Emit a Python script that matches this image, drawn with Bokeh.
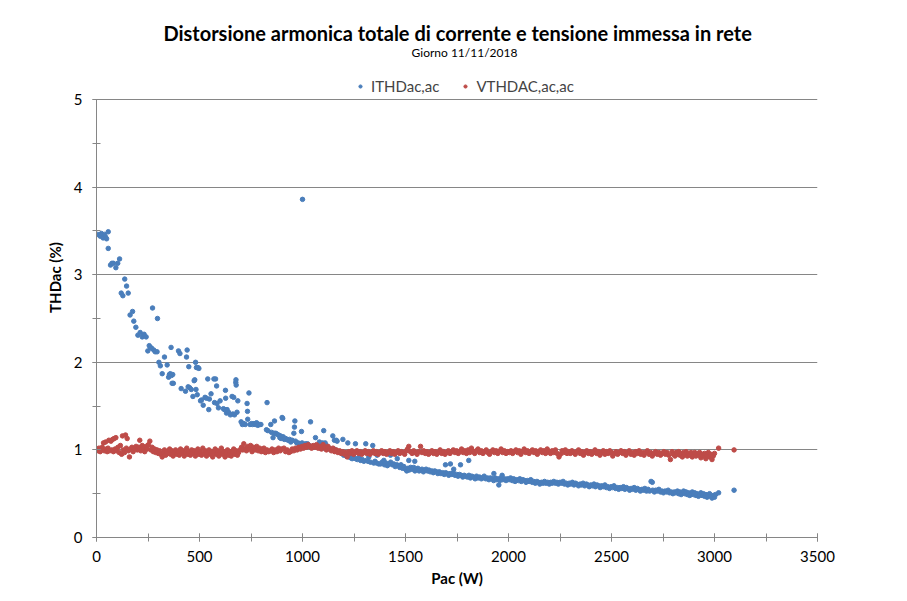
from bokeh.plotting import figure
from bokeh.models import Legend, LegendItem, SingleIntervalTicker, Range1d, Label
from bokeh.embed import file_html
from bokeh.resources import INLINE

# ---------------- data ----------------
title_text = "Distorsione armonica totale di  corrente e tensione  immessa in rete"
subtitle_text = "Giorno 11/11/2018"
series_names = ["ITHDac,ac", "VTHDAC,ac,ac"]
x_label = "Pac (W)"
y_label = "THDac (%)"
x_axis_max = 3500
y_axis_max = 5

# ITHDac,ac  (Pac W, THD %)
ithd_points = [
    (6, 3.46), (18, 3.44), (24, 3.47), (32, 3.42), (39, 3.46), (44, 3.43), (49, 3.41), (57, 3.49), (57, 3.30),
    (68, 3.11), (75, 3.13), (82, 3.13), (94, 3.08), (103, 3.13), (112, 3.18), (120, 2.79), (128, 2.76),
    (137, 2.95), (146, 2.87), (154, 2.79), (163, 2.54), (175, 2.58), (181, 2.47), (191, 2.40), (201, 2.31),
    (212, 2.34), (222, 2.29), (231, 2.32), (241, 2.29), (249, 2.13), (256, 2.19), (262, 2.17), (268, 2.16),
    (272, 2.62), (278, 2.14), (285, 2.12), (294, 2.12), (296, 2.50), (303, 2.00), (310, 1.96), (319, 1.87),
    (330, 2.06), (343, 1.97), (350, 1.83), (354, 1.86), (358, 1.87), (362, 2.17), (364, 1.85), (367, 1.76),
    (370, 1.86), (373, 1.76), (398, 2.13), (405, 2.10), (411, 1.70), (432, 1.67), (437, 2.06), (440, 2.14),
    (445, 1.72), (448, 1.95), (452, 1.71), (460, 1.69), (468, 1.61), (474, 1.79), (477, 1.80), (481, 2.00),
    (483, 1.69), (485, 1.94), (489, 1.63), (492, 1.94), (497, 1.93), (505, 1.56), (510, 1.57), (518, 1.51),
    (527, 1.60), (534, 1.59), (540, 1.81), (545, 1.46), (548, 1.58), (556, 1.64), (570, 1.81), (573, 1.54),
    (578, 1.81), (583, 1.73), (585, 1.53), (592, 1.48), (600, 1.56), (616, 1.47), (621, 1.46), (626, 1.68),
    (627, 1.59), (631, 1.42), (634, 1.46), (641, 1.43), (650, 1.40), (658, 1.61), (662, 1.41), (666, 1.60),
    (670, 1.40), (676, 1.77), (677, 1.80), (678, 1.74), (682, 1.43), (686, 1.56), (702, 1.32), (708, 1.29),
    (715, 1.30), (722, 1.29), (731, 1.53), (733, 1.44), (734, 1.35), (740, 1.65), (745, 1.29), (752, 1.30),
    (758, 1.29), (764, 1.30), (770, 1.29), (777, 1.31), (783, 1.28), (790, 1.29), (798, 1.29), (825, 1.23),
    (828, 1.54), (832, 1.22), (846, 1.29), (850, 1.20), (857, 1.14), (862, 1.19), (864, 1.33), (870, 1.19),
    (876, 1.18), (884, 1.17), (890, 1.14), (893, 1.16), (896, 1.13), (901, 1.37), (904, 1.36), (906, 1.15),
    (912, 1.12), (918, 1.13), (924, 1.12), (930, 1.11), (937, 1.12), (943, 1.09), (950, 1.11), (958, 1.19),
    (961, 1.26), (963, 1.33), (966, 1.10), (972, 1.08), (979, 1.08), (986, 1.07), (995, 1.21), (998, 1.08),
    (1000, 3.86), (1008, 1.06), (1015, 1.07), (1024, 1.07), (1032, 1.05), (1039, 1.32), (1046, 1.04),
    (1052, 1.03), (1058, 1.04), (1063, 1.14), (1068, 1.03), (1075, 1.04), (1082, 1.09), (1088, 1.02),
    (1097, 1.08), (1103, 1.22), (1106, 1.02), (1110, 1.08), (1116, 1.05), (1122, 1.01), (1130, 1.02),
    (1138, 1.00), (1147, 1.16), (1152, 1.01), (1155, 1.11), (1160, 1.00), (1164, 1.11), (1168, 1.10),
    (1175, 0.98), (1182, 0.97), (1190, 0.96), (1196, 1.12), (1200, 0.94), (1206, 0.95), (1213, 0.93),
    (1220, 1.08), (1226, 0.92), (1234, 0.91), (1241, 0.90), (1248, 0.92), (1257, 1.07), (1258, 0.90),
    (1266, 0.89), (1274, 0.91), (1282, 0.88), (1290, 0.89), (1298, 0.87), (1307, 1.07), (1310, 0.88),
    (1318, 0.87), (1322, 0.92), (1330, 0.86), (1341, 1.05), (1346, 0.85), (1352, 0.87), (1360, 0.85),
    (1362, 0.94), (1370, 0.84), (1379, 0.84), (1386, 0.86), (1395, 0.88), (1398, 0.83),
    (1405, 0.85), (1412, 0.82), (1420, 0.84), (1427, 0.94), (1428, 0.86), (1436, 0.83), (1443, 0.84),
    (1450, 0.81), (1458, 0.83), (1460, 0.90), (1465, 0.82), (1472, 0.80), (1478, 0.83), (1485, 0.79),
    (1492, 0.81), (1500, 0.78), (1506, 0.76), (1512, 0.79), (1516, 0.88), (1518, 0.77), (1525, 0.80),
    (1532, 0.78), (1540, 0.80), (1545, 0.87), (1546, 0.76), (1553, 0.78), (1560, 0.79), (1566, 0.76),
    (1573, 0.77), (1580, 0.78), (1587, 0.75), (1594, 0.77), (1600, 0.78), (1607, 0.76), (1614, 0.77),
    (1620, 0.75), (1628, 0.76), (1635, 0.74), (1642, 0.76), (1650, 0.75), (1657, 0.73), (1664, 0.75),
    (1672, 0.73), (1680, 0.74), (1688, 0.72), (1694, 0.83), (1695, 0.74), (1702, 0.73), (1710, 0.71),
    (1717, 0.73), (1718, 0.84), (1725, 0.72), (1732, 0.74), (1734, 0.78), (1740, 0.71), (1748, 0.72),
    (1755, 0.70), (1762, 0.72), (1767, 0.83), (1770, 0.71), (1778, 0.69), (1785, 0.71), (1792, 0.70),
    (1800, 0.69), (1807, 0.88), (1808, 0.71), (1815, 0.68), (1822, 0.70), (1830, 0.69), (1838, 0.67),
    (1845, 0.70), (1852, 0.68), (1860, 0.69), (1868, 0.67), (1875, 0.68), (1882, 0.70), (1890, 0.67),
    (1898, 0.68), (1905, 0.66), (1912, 0.68), (1920, 0.67), (1928, 0.65), (1929, 0.73), (1935, 0.68),
    (1942, 0.66), (1950, 0.67), (1953, 0.60), (1958, 0.65), (1965, 0.68), (1969, 0.71), (1972, 0.66),
    (1980, 0.67), (1988, 0.65), (1995, 0.67), (2003, 0.66), (2010, 0.68), (2018, 0.65), (2025, 0.67),
    (2032, 0.64), (2040, 0.66), (2048, 0.65), (2055, 0.67), (2062, 0.64), (2070, 0.66), (2078, 0.65),
    (2085, 0.63), (2092, 0.65), (2100, 0.64), (2108, 0.66), (2115, 0.63), (2122, 0.64), (2130, 0.62),
    (2138, 0.64), (2145, 0.63), (2152, 0.61), (2160, 0.63), (2168, 0.62), (2175, 0.64), (2182, 0.62),
    (2190, 0.63), (2198, 0.61), (2205, 0.63), (2212, 0.62), (2220, 0.64), (2228, 0.62), (2235, 0.63),
    (2242, 0.61), (2250, 0.63), (2258, 0.62), (2265, 0.64), (2272, 0.61), (2280, 0.62), (2288, 0.60),
    (2295, 0.62), (2302, 0.61), (2310, 0.63), (2318, 0.60), (2325, 0.62), (2332, 0.61), (2340, 0.59),
    (2348, 0.61), (2355, 0.60), (2362, 0.62), (2370, 0.59), (2378, 0.61), (2385, 0.60), (2392, 0.58),
    (2400, 0.60), (2408, 0.59), (2415, 0.61), (2422, 0.58), (2430, 0.60), (2438, 0.59), (2445, 0.57),
    (2452, 0.59), (2460, 0.58), (2468, 0.60), (2475, 0.57), (2482, 0.58), (2490, 0.56), (2498, 0.58),
    (2505, 0.57), (2512, 0.59), (2520, 0.56), (2528, 0.57), (2535, 0.55), (2542, 0.57), (2550, 0.56),
    (2558, 0.58), (2565, 0.55), (2572, 0.57), (2580, 0.56), (2588, 0.54), (2595, 0.56), (2602, 0.55),
    (2610, 0.57), (2618, 0.54), (2625, 0.56), (2632, 0.55), (2640, 0.53), (2648, 0.55), (2655, 0.54),
    (2662, 0.56), (2670, 0.53), (2678, 0.55), (2685, 0.53), (2692, 0.64), (2698, 0.63), (2700, 0.54),
    (2708, 0.52), (2715, 0.54), (2722, 0.53), (2730, 0.55), (2738, 0.52), (2745, 0.53), (2752, 0.51),
    (2760, 0.53), (2768, 0.52), (2775, 0.54), (2782, 0.51), (2790, 0.52), (2798, 0.50), (2805, 0.52),
    (2812, 0.51), (2820, 0.53), (2826, 0.50), (2832, 0.52), (2838, 0.49), (2845, 0.51), (2850, 0.53),
    (2856, 0.50), (2862, 0.52), (2868, 0.49), (2874, 0.51), (2880, 0.48), (2886, 0.50), (2892, 0.52),
    (2898, 0.49), (2904, 0.51), (2910, 0.48), (2916, 0.50), (2922, 0.47), (2928, 0.49), (2934, 0.51),
    (2940, 0.48), (2946, 0.50), (2952, 0.47), (2958, 0.49), (2964, 0.46), (2970, 0.48), (2976, 0.50),
    (2982, 0.47), (2988, 0.45), (2994, 0.48), (3000, 0.46), (3005, 0.49), (3020, 0.51), (3095, 0.54),
]

# VTHDAC,ac,ac  (Pac W, THD %)
vthd_points = [
    (3, 1.01), (8, 0.99), (12, 1.02), (18, 0.98), (22, 1.00), (28, 1.03), (34, 1.08), (38, 0.99), (44, 1.09),
    (48, 1.01), (52, 0.98), (56, 1.02), (60, 1.11), (64, 0.99), (70, 1.10), (74, 1.00), (78, 1.12), (82, 0.98),
    (86, 1.13), (90, 1.01), (94, 1.14), (98, 0.99), (104, 1.03), (110, 0.97), (116, 1.05), (122, 0.95),
    (126, 1.16), (130, 1.00), (136, 0.97), (141, 1.17), (145, 1.02), (149, 1.13), (155, 0.99), (160, 0.92),
    (165, 1.01), (172, 1.03), (178, 0.98), (185, 1.02), (192, 1.04), (198, 1.00), (205, 1.03), (210, 1.11),
    (215, 0.99), (222, 1.05), (228, 1.02), (234, 0.98), (240, 1.04), (246, 1.01), (252, 1.06), (259, 1.10),
    (264, 1.00), (270, 1.03), (276, 0.98), (282, 1.01), (288, 0.97), (294, 1.00), (300, 0.96),
    (306, 0.99), (312, 0.95), (319, 0.92), (324, 0.97), (330, 1.00), (336, 0.94), (342, 0.98), (348, 0.96),
    (355, 1.01), (360, 0.95), (366, 0.99), (372, 0.93), (378, 0.97), (384, 1.00), (390, 0.95), (396, 0.98),
    (402, 0.94), (408, 1.01), (414, 0.96), (420, 0.99), (426, 0.93), (432, 0.97), (438, 1.02), (444, 0.95),
    (450, 0.98), (456, 0.94), (462, 1.00), (468, 0.96), (474, 0.99), (480, 0.93), (486, 0.97), (492, 1.01),
    (498, 0.95), (504, 0.98), (510, 0.94), (516, 1.02), (522, 0.96), (528, 0.99), (534, 0.93), (540, 0.97),
    (546, 1.00), (552, 0.95), (558, 0.98), (564, 0.92), (570, 0.97), (576, 1.01), (582, 0.95), (588, 0.99),
    (594, 0.93), (600, 0.97), (606, 1.02), (612, 0.95), (618, 0.98), (624, 0.92), (630, 0.96), (636, 1.00),
    (642, 0.94), (648, 0.98), (654, 0.93), (660, 0.97), (666, 1.01), (672, 0.95), (678, 0.99), (684, 0.94),
    (690, 0.97), (696, 1.00),
    (704, 1.03), (710, 1.00), (715, 1.07), (722, 1.02), (728, 0.99), (735, 1.04), (742, 1.01), (748, 1.05),
    (755, 0.98), (762, 1.03), (770, 1.00), (778, 1.04), (785, 0.99), (792, 1.02), (800, 0.98), (808, 1.01),
    (813, 1.02), (820, 0.97), (828, 1.00), (836, 0.98), (845, 0.99), (852, 1.01), (860, 0.97), (868, 1.00),
    (876, 0.98), (884, 1.02), (892, 0.99), (900, 1.01), (910, 1.02), (918, 0.98), (926, 1.00), (934, 0.97),
    (942, 0.98), (950, 1.01), (958, 0.99), (966, 1.02), (974, 1.00), (982, 1.03), (990, 1.01), (998, 1.04),
    (1005, 1.02), (1012, 1.05), (1020, 1.03), (1028, 1.06), (1036, 1.04), (1044, 1.02), (1052, 1.05),
    (1060, 1.03), (1068, 1.06), (1076, 1.02), (1084, 1.04), (1092, 1.01), (1100, 1.06), (1108, 1.03),
    (1116, 1.00), (1124, 1.04), (1132, 1.01), (1140, 0.99), (1148, 1.02), (1156, 0.98), (1164, 1.00),
    (1172, 0.97), (1180, 0.99), (1188, 0.96), (1196, 0.98),
    (1204, 0.95), (1212, 0.97), (1217, 0.92), (1225, 0.98), (1232, 0.96), (1240, 0.99), (1248, 0.95),
    (1256, 0.97), (1264, 0.99), (1272, 0.96), (1280, 0.98), (1288, 0.95), (1296, 0.97), (1304, 0.99),
    (1312, 0.96), (1320, 0.98), (1328, 0.95), (1336, 0.97), (1344, 0.99), (1352, 0.96), (1360, 0.98),
    (1368, 0.95), (1376, 0.97), (1384, 0.99), (1392, 0.96), (1400, 0.98), (1408, 0.95), (1416, 0.97),
    (1424, 0.99), (1432, 0.96), (1440, 0.98), (1448, 0.95), (1456, 0.97), (1464, 0.99), (1472, 0.96),
    (1480, 0.98), (1488, 0.97), (1496, 0.95), (1504, 0.99), (1510, 1.01), (1516, 1.04), (1524, 0.98),
    (1532, 0.96), (1540, 0.99), (1548, 0.97), (1556, 0.95), (1564, 0.98), (1573, 1.04), (1580, 0.97),
    (1588, 0.99), (1596, 0.96),
    (1604, 0.98), (1612, 0.95), (1620, 0.97), (1628, 0.99), (1636, 0.96), (1644, 0.98), (1652, 0.95),
    (1660, 0.97), (1668, 1.00), (1676, 0.96), (1684, 0.98), (1692, 0.95), (1700, 0.97), (1708, 0.99),
    (1716, 0.96), (1724, 0.98), (1732, 1.00), (1740, 0.97), (1748, 0.99), (1756, 0.96), (1764, 0.98),
    (1772, 1.01), (1780, 0.97), (1788, 0.99), (1796, 0.96), (1804, 1.00), (1812, 0.97), (1820, 1.02),
    (1828, 0.98), (1836, 0.96), (1844, 0.99), (1852, 1.01), (1860, 0.97), (1868, 0.99), (1876, 0.96),
    (1884, 0.98), (1892, 1.00), (1900, 0.97), (1908, 0.95), (1916, 0.98), (1924, 1.00), (1932, 0.97),
    (1940, 0.99), (1948, 0.96), (1956, 0.98), (1964, 1.01), (1972, 0.97), (1980, 0.99), (1988, 0.96),
    (1996, 0.98), (2004, 0.97), (2012, 0.99), (2020, 0.96), (2028, 0.98), (2036, 1.00), (2044, 0.97),
    (2052, 0.99), (2060, 0.95), (2068, 0.98), (2076, 1.01), (2084, 0.97), (2092, 0.99), (2100, 0.96),
    (2108, 0.98), (2116, 1.00), (2124, 0.97), (2132, 0.99), (2140, 0.95), (2148, 0.98), (2156, 1.00),
    (2164, 0.97), (2172, 0.99), (2180, 0.96), (2188, 1.01), (2196, 0.98), (2204, 0.96), (2212, 0.99),
    (2220, 0.97), (2228, 1.00), (2236, 0.96), (2245, 0.92), (2252, 0.95), (2260, 0.99), (2268, 0.97),
    (2276, 1.00), (2284, 0.96), (2292, 0.98),
    (2300, 0.96), (2308, 0.99), (2316, 0.97), (2324, 0.95), (2332, 0.98), (2340, 1.00), (2348, 0.96),
    (2356, 0.98), (2364, 0.94), (2372, 0.97), (2380, 0.99), (2388, 0.96), (2396, 0.98), (2404, 0.95),
    (2412, 0.97), (2420, 1.00), (2428, 0.96), (2436, 0.98), (2444, 0.94), (2452, 0.97), (2460, 0.99),
    (2468, 0.95), (2476, 0.98), (2484, 0.96), (2492, 0.99), (2500, 0.97), (2506, 0.93), (2514, 0.96),
    (2522, 0.98), (2530, 0.95), (2538, 0.97), (2546, 0.99), (2554, 0.96), (2562, 0.98), (2570, 0.94),
    (2578, 0.97), (2586, 0.99), (2594, 0.95), (2602, 0.97), (2610, 0.94), (2618, 0.98), (2626, 0.96),
    (2634, 0.99), (2642, 0.95), (2650, 0.97), (2658, 0.94), (2666, 0.97), (2674, 0.99), (2682, 0.95),
    (2690, 0.97), (2698, 0.93), (2706, 0.96), (2714, 0.98), (2722, 0.95), (2730, 0.97), (2738, 0.94),
    (2746, 0.96), (2754, 0.98), (2762, 0.95), (2770, 0.97), (2778, 0.94), (2786, 0.89), (2794, 0.98),
    (2800, 0.95), (2808, 0.93), (2814, 0.97), (2820, 0.95), (2826, 0.98), (2832, 0.94), (2838, 0.96),
    (2844, 0.92), (2850, 0.97), (2856, 0.95), (2862, 0.98), (2868, 0.93), (2874, 0.96), (2880, 0.94),
    (2886, 0.97), (2892, 0.92), (2898, 0.95), (2904, 0.97), (2910, 0.93), (2916, 0.96), (2922, 0.94),
    (2928, 0.97), (2934, 0.91), (2940, 0.95), (2946, 0.93), (2952, 0.96), (2958, 0.90), (2964, 0.94),
    (2970, 0.97), (2976, 0.92), (2982, 0.95), (2988, 0.89), (2994, 0.93), (3000, 0.96), (3020, 1.02),
    (3095, 1.00),
]

ithd_pac = [p[0] for p in ithd_points]
ithd_thd = [p[1] for p in ithd_points]
vthd_pac = [p[0] for p in vthd_points]
vthd_thd = [p[1] for p in vthd_points]

BLUE = "#4A7EBB"
RED = "#BE4B48"
AXIS = "#868686"
FONT = "Lato"

# layout (pixels in the figure): frame spans from the top band (titles, legend) down to the x axis;
# the value axis itself is bounded to 0..5 and ends at FRAME_Y5.
FIG_W, FIG_H = 891, 593
FRAME_L, FRAME_R = 96, 817
FRAME_TOP, FRAME_Y5, FRAME_Y0 = 17, 99, 537
y_view_end = y_axis_max * (FRAME_Y0 - FRAME_TOP) / (FRAME_Y0 - FRAME_Y5)

p = figure(width=FIG_W, height=FIG_H, output_backend="svg", toolbar_location=None,
           x_range=Range1d(0, x_axis_max), y_range=Range1d(0, y_view_end),
           min_border_left=FRAME_L, min_border_right=FIG_W - FRAME_R,
           min_border_top=FRAME_TOP, min_border_bottom=FIG_H - FRAME_Y0)
p.outline_line_color = None
p.background_fill_color = "white"
p.border_fill_color = "white"
p.title.visible = False

r_i = p.scatter(ithd_pac, ithd_thd, size=4.5, color=BLUE, line_color=BLUE)
r_v = p.scatter(vthd_pac, vthd_thd, size=4.5, color=RED, line_color=RED)

p.xaxis.ticker = SingleIntervalTicker(interval=500, num_minor_ticks=2)
p.yaxis.ticker = SingleIntervalTicker(interval=1, num_minor_ticks=2)
p.yaxis.bounds = (0, y_axis_max)
for ax in (p.xaxis[0], p.yaxis[0]):
    ax.axis_line_color = AXIS
    ax.major_tick_line_color = AXIS
    ax.minor_tick_line_color = AXIS
    ax.major_tick_in = 4
    ax.major_tick_out = 4
    ax.minor_tick_in = 4
    ax.minor_tick_out = 4
    ax.major_label_text_font = FONT
    ax.major_label_text_font_size = "15px"
    ax.major_label_text_color = "#000000"
    ax.axis_label_text_font = FONT
    ax.axis_label_text_font_size = "15px"
    ax.axis_label_text_font_style = "bold"
    ax.axis_label_text_color = "#000000"
p.xaxis.major_label_standoff = 9
p.yaxis.major_label_standoff = 10
p.xaxis.axis_label = x_label
p.yaxis.axis_label = y_label
p.xaxis.axis_label_standoff = 4
p.yaxis.axis_label_standoff = 7
p.xgrid.grid_line_color = None
p.ygrid.grid_line_color = AXIS
p.ygrid.grid_line_width = 1
p.ygrid.bounds = (0, y_axis_max)


def frame_label(text, page_x, page_y, size, bold=False):
    p.add_layout(Label(x=page_x - FRAME_L, y=FRAME_Y0 - page_y, x_units="screen", y_units="screen",
                       text=text, text_font=FONT, text_font_size=size,
                       text_font_style="bold" if bold else "normal",
                       text_align="center", text_baseline="middle", text_color="#000000"))


frame_label(title_text, 462, 32, "20px", bold=True)
frame_label(subtitle_text, 464, 52, "12px")

legend = Legend(items=[LegendItem(label=series_names[0], renderers=[r_i]),
                       LegendItem(label=series_names[1], renderers=[r_v])],
                location=(356 - FRAME_L, FRAME_Y0 - 95), orientation="horizontal",
                label_text_font=FONT, label_text_font_size="15px",
                glyph_width=8, glyph_height=8, label_standoff=7, spacing=22,
                padding=0, margin=0, border_line_color=None, background_fill_alpha=0)
p.add_layout(legend, "center")

open("out.html", "w").write(file_html(p, INLINE))
